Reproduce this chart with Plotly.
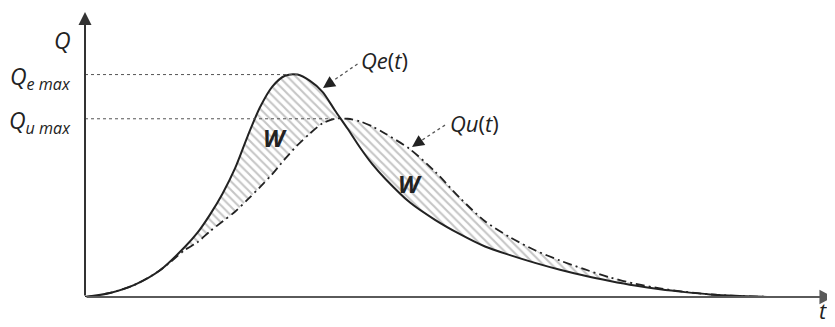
import plotly.graph_objects as go

t = [0, 1, 2, 3, 4, 4.5, 5, 5.5, 6, 6.5, 7, 7.5, 8, 8.5, 9, 9.5, 10, 10.5,
     11, 11.5, 12, 13, 14, 15, 16, 17, 18, 19, 20, 21, 22, 23, 24, 25, 26, 27.5]
qe = [0, 1.4, 4.3, 9.3, 17.5, 22.4, 28.7, 36.0, 44.8, 55.9, 66.1, 73.4, 77.1, 77.5,
      75.3, 71.5, 65.0, 58.7, 52.1, 46.2, 41.3, 32.9, 26.9, 21.9, 17.6, 14.6, 11.9,
      9.5, 7.4, 5.6, 4.0, 2.7, 1.7, 0.9, 0.4, 0]
qu = [0, 1.4, 4.3, 9.3, 16.4, 19.1, 22.9, 26.3, 29.7, 33.9, 38.3, 42.9, 48.1, 52.9,
      57.0, 60.5, 62.1, 62.1, 61.2, 59.4, 57.0, 51.5, 43.7, 34.5, 26.4, 20.8, 16.3,
      12.7, 9.6, 6.8, 4.6, 3.0, 1.8, 0.9, 0.4, 0]

FONT = 'Open Sans, Segoe UI, sans-serif'
INK = '#222222'

qe_max = max(qe)
qu_max = max(qu)
t_qe_max = t[qe.index(qe_max)]
t_qu_max = t[qu.index(qu_max)]

fig = go.Figure()

# hatched area between the two hydrographs
fig.add_trace(go.Scatter(x=t, y=qu, mode='lines', line=dict(width=0, shape='spline', smoothing=0.8),
                         hoverinfo='skip', showlegend=False))
fig.add_trace(go.Scatter(x=t, y=qe, mode='lines', line=dict(width=0, shape='spline', smoothing=0.8),
                         fill='tonexty', fillcolor='rgba(0,0,0,0)',
                         fillpattern=dict(shape='\\', fgcolor='#8c8c8c', bgcolor='white',
                                          size=6, solidity=0.35),
                         hoverinfo='skip', showlegend=False))

fig.add_trace(go.Scatter(x=t, y=qu, mode='lines', name='Qu(t)',
                         line=dict(color=INK, width=1.8, dash='9px,4px,2px,4px',
                                   shape='spline', smoothing=0.8)))
fig.add_trace(go.Scatter(x=t, y=qe, mode='lines', name='Qe(t)',
                         line=dict(color=INK, width=2, shape='spline', smoothing=0.8)))

shapes = [
    dict(type='line', xref='x', yref='y', x0=0, x1=t_qe_max, y0=qe_max, y1=qe_max,
         line=dict(color='#555555', width=1, dash='dot')),
    dict(type='line', xref='x', yref='y', x0=0, x1=t_qu_max, y0=qu_max, y1=qu_max,
         line=dict(color='#555555', width=1, dash='dot')),
    # dotted leader lines for the curve labels
    dict(type='line', xref='x', yref='y', x0=10.9, y0=81.2, x1=9.9, y1=75.2,
         line=dict(color='#555555', width=1.3, dash='dot')),
    dict(type='line', xref='x', yref='y', x0=14.4, y0=59.9, x1=13.45, y1=54.5,
         line=dict(color='#555555', width=1.3, dash='dot')),
]

annotations = [
    # axes with arrow heads
    dict(x=29.95, y=0, ax=0, ay=0, xref='x', yref='y', axref='x', ayref='y', text='',
         showarrow=True, arrowhead=2, arrowsize=1.3, arrowwidth=2.2, arrowcolor='#5a5a5a'),
    dict(x=0, y=99.3, ax=0, ay=0, xref='x', yref='y', axref='x', ayref='y', text='',
         showarrow=True, arrowhead=2, arrowsize=1.3, arrowwidth=2, arrowcolor='#333333'),
    # arrow heads of the leaders
    dict(x=9.52, y=72.8, ax=11, ay=-7.5, text='', showarrow=True, arrowhead=2,
         arrowsize=2, arrowwidth=1.2, arrowcolor=INK),
    dict(x=13.08, y=52.3, ax=11, ay=-7.5, text='', showarrow=True, arrowhead=2,
         arrowsize=2, arrowwidth=1.2, arrowcolor=INK),
    # labels
    dict(x=10.95, y=82.6, text='<i>Qe</i>(<i>t</i>)', xanchor='left', yanchor='middle',
         showarrow=False, font=dict(family=FONT, size=22, color=INK)),
    dict(x=14.5, y=60.6, text='<i>Qu</i>(<i>t</i>)', xanchor='left', yanchor='middle',
         showarrow=False, font=dict(family=FONT, size=22, color=INK)),
    dict(x=7.6, y=55.7, text='<b><i>W</i></b>', showarrow=False,
         font=dict(family=FONT, size=24, color=INK)),
    dict(x=13.0, y=39.7, text='<b><i>W</i></b>', showarrow=False,
         font=dict(family=FONT, size=24, color=INK)),
    dict(x=-0.016, y=qe_max, xref='paper', yref='y', text='<i>Q<sub>e max</sub></i>',
         xanchor='right', yanchor='middle', yshift=-3, showarrow=False,
         font=dict(family=FONT, size=23, color=INK)),
    dict(x=-0.016, y=qu_max, xref='paper', yref='y', text='<i>Q<sub>u max</sub></i>',
         xanchor='right', yanchor='middle', yshift=-3, showarrow=False,
         font=dict(family=FONT, size=23, color=INK)),
    dict(x=-0.03, y=0.895, xref='paper', yref='paper', text='<i>Q</i>', showarrow=False,
         xanchor='center', yanchor='middle', font=dict(family=FONT, size=23, color=INK)),
    dict(x=0.984, y=-0.1045, xref='paper', yref='paper', text='<i>t</i>', showarrow=False,
         xanchor='center', yanchor='bottom', font=dict(family=FONT, size=22, color=INK)),
]

# the page body keeps an 8px margin, so the figure is 8px smaller than the window
fig.update_layout(
    width=827, height=319,
    margin=dict(l=77, r=0, t=2, b=30),
    paper_bgcolor='white', plot_bgcolor='white',
    showlegend=False,
    xaxis=dict(range=[0, 30], visible=False, fixedrange=True),
    yaxis=dict(range=[0, 100], visible=False, fixedrange=True),
    shapes=shapes,
    annotations=annotations,
)

fig.write_html("out.html")
